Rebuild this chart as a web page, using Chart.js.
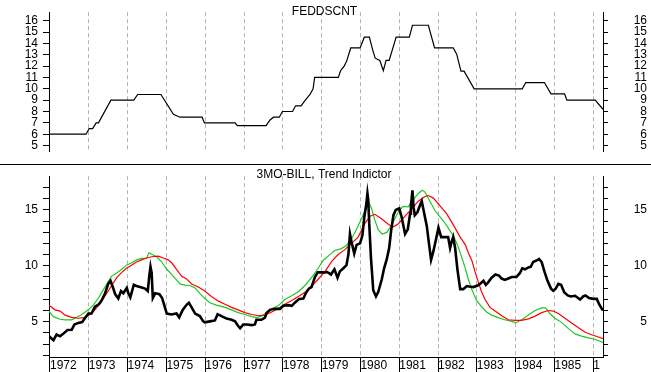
<!DOCTYPE html>
<html><head><meta charset="utf-8">
<script src="https://cdn.jsdelivr.net/npm/chart.js@4.4.1/dist/chart.umd.min.js"></script>
<style>
html,body{margin:0;padding:0;background:#fff;overflow:hidden;}
#wrap{position:relative;width:651px;height:372px;background:#fff;}
canvas{position:absolute;left:0;}
#c1{top:0;} #c2{top:164px;}
</style></head><body>
<div id="wrap"><canvas id="c1" width="651" height="164"></canvas><canvas id="c2" width="651" height="208"></canvas></div>
<script>
// ---- data ----
const topTitle = 'FEDDSCNT';
const bottomTitle = '3MO-BILL, Trend Indictor';
const yearTicks = [1972,1973,1974,1975,1976,1977,1978,1979,1980,1981,1982,1983,1984,1985,1986];
const yearLabels = ['1972','1973','1974','1975','1976','1977','1978','1979','1980','1981','1982','1983','1984','1985','1'];
const fedTicks = [5,6,7,8,9,10,11,12,13,14,15,16];
const billTicks = [2,3,4,5,6,7,8,9,10,11,12,13,14,15,16,17];
const billLabeled = [5,10,15];

const fedT = [1971.97,1972.93,1973.01,1973.10,1973.19,1973.25,1973.57,1974.16,1974.26,1974.86,1975.18,1975.35,1975.92,1975.98,1976.77,1976.83,1977.57,1977.67,1977.76,1977.91,1977.99,1978.25,1978.33,1978.47,1978.58,1978.70,1978.78,1978.82,1979.43,1979.49,1979.58,1979.64,1979.75,1979.99,1980.10,1980.23,1980.31,1980.38,1980.50,1980.59,1980.66,1980.74,1980.92,1981.26,1981.34,1981.75,1981.91,1982.39,1982.48,1982.59,1982.67,1982.93,1984.17,1984.26,1984.74,1984.91,1985.26,1985.32,1986.05,1986.25];
const fedV = [6.0,6.0,6.5,6.5,7.0,7.0,9.0,9.0,9.5,9.5,7.75,7.5,7.5,7.0,7.0,6.75,6.75,7.25,7.5,7.5,8.0,8.0,8.5,8.5,9.0,9.5,10.0,11.0,11.0,11.6,12.0,12.4,13.6,13.6,14.55,14.55,13.5,12.7,12.5,11.6,12.5,12.5,14.55,14.55,15.6,15.6,13.6,13.6,13.05,11.55,11.55,10.0,10.0,10.55,10.55,9.55,9.55,9.0,9.0,8.2];

const billT = [1971.97,1972.09,1972.17,1972.26,1972.34,1972.45,1972.56,1972.63,1972.73,1972.83,1972.90,1972.99,1973.07,1973.16,1973.26,1973.33,1973.42,1973.50,1973.56,1973.61,1973.68,1973.76,1973.83,1973.89,1973.98,1974.02,1974.07,1974.16,1974.23,1974.32,1974.45,1974.52,1974.56,1974.59,1974.62,1974.65,1974.71,1974.82,1974.89,1974.95,1975.01,1975.13,1975.26,1975.33,1975.42,1975.52,1975.58,1975.65,1975.74,1975.86,1975.95,1975.99,1976.12,1976.25,1976.32,1976.42,1976.55,1976.68,1976.77,1976.84,1976.90,1976.98,1977.07,1977.20,1977.28,1977.32,1977.45,1977.54,1977.58,1977.67,1977.80,1977.93,1978.01,1978.14,1978.23,1978.31,1978.42,1978.53,1978.59,1978.67,1978.74,1978.78,1978.83,1978.90,1979.00,1979.09,1979.13,1979.21,1979.24,1979.33,1979.41,1979.47,1979.56,1979.64,1979.69,1979.73,1979.77,1979.84,1979.90,1979.99,1980.05,1980.10,1980.15,1980.18,1980.20,1980.23,1980.27,1980.33,1980.40,1980.46,1980.55,1980.61,1980.68,1980.74,1980.79,1980.85,1980.91,1981.00,1981.06,1981.10,1981.15,1981.22,1981.28,1981.30,1981.34,1981.37,1981.40,1981.47,1981.53,1981.58,1981.62,1981.71,1981.77,1981.82,1981.88,1981.95,1982.01,1982.08,1982.18,1982.26,1982.31,1982.35,1982.39,1982.44,1982.50,1982.57,1982.65,1982.74,1982.80,1982.91,1983.02,1983.08,1983.17,1983.23,1983.29,1983.38,1983.48,1983.57,1983.64,1983.72,1983.81,1983.90,1984.02,1984.11,1984.17,1984.24,1984.33,1984.39,1984.45,1984.54,1984.60,1984.67,1984.74,1984.82,1984.91,1984.97,1985.03,1985.10,1985.17,1985.25,1985.34,1985.42,1985.53,1985.66,1985.74,1985.80,1985.89,1986.00,1986.09,1986.15,1986.22,1986.25];
const billV = [3.71,3.35,3.85,3.69,3.91,4.25,4.27,4.75,4.89,4.97,5.31,5.73,5.73,6.34,6.56,6.9,7.54,8.38,8.66,8.19,7.46,7.07,7.74,7.54,8.02,7.54,7.18,8.3,8.19,8.1,7.96,7.74,9.13,9.92,9.36,7.12,7.54,7.46,7.12,6.42,5.73,5.64,5.73,5.39,6.06,6.51,6.7,6.28,5.73,5.5,5.03,4.94,5.03,5.11,5.67,5.5,5.28,5.17,5.03,4.66,4.41,4.75,4.75,4.69,4.75,5.17,5.17,5.36,5.78,6.06,6.15,6.15,6.42,6.48,6.42,6.7,7.04,7.07,7.54,7.96,8.1,8.52,9.02,9.41,9.41,9.41,9.45,9.3,9.22,9.69,8.94,9.5,9.78,10.06,11.03,12.85,12.15,11.09,11.87,12.01,12.71,14.39,15.5,16.48,15.92,13.55,10.76,7.82,7.26,7.68,8.8,9.78,10.62,11.59,13.13,14.53,15.0,15.14,14.39,13.69,12.85,13.27,14.67,15.37,16.76,15.23,14.53,14.81,15.37,15.78,15.09,13.55,11.87,10.53,11.31,12.43,13.41,12.57,12.57,12.57,11.59,12.15,12.57,11.59,9.64,7.91,7.91,8.19,8.15,8.1,8.24,8.38,8.66,8.3,8.52,8.94,9.22,9.13,8.86,8.74,8.86,9.0,9.0,9.36,9.78,9.69,9.86,9.92,10.34,10.48,10.62,10.34,9.5,8.66,7.96,7.77,7.96,8.38,8.3,7.63,7.35,7.26,7.32,6.98,7.26,7.35,7.12,7.04,7.04,6.56,6.15,6.0];

const redT = [1971.96,1972.13,1972.26,1972.39,1972.56,1972.73,1972.90,1973.07,1973.20,1973.33,1973.46,1973.59,1973.72,1973.85,1973.97,1974.10,1974.23,1974.36,1974.49,1974.62,1974.79,1974.92,1975.05,1975.14,1975.26,1975.39,1975.52,1975.65,1975.82,1975.99,1976.16,1976.34,1976.51,1976.68,1976.85,1977.02,1977.20,1977.37,1977.54,1977.71,1977.88,1978.05,1978.23,1978.40,1978.57,1978.74,1978.91,1979.09,1979.26,1979.43,1979.60,1979.77,1979.94,1980.12,1980.25,1980.37,1980.50,1980.63,1980.76,1980.85,1980.98,1981.15,1981.32,1981.49,1981.66,1981.75,1981.88,1982.05,1982.22,1982.39,1982.57,1982.70,1982.78,1982.87,1982.95,1983.04,1983.12,1983.21,1983.34,1983.47,1983.64,1983.81,1983.98,1984.15,1984.33,1984.50,1984.67,1984.84,1984.97,1985.10,1985.27,1985.44,1985.61,1985.79,1985.96,1986.13,1986.25];
const redV = [6.51,6.06,5.95,5.59,5.39,5.31,5.39,5.73,6.23,6.84,7.54,8.24,8.94,9.41,9.78,10.06,10.34,10.53,10.7,10.81,10.87,10.7,10.53,10.25,9.69,9.08,8.83,8.38,8.1,7.74,7.26,6.84,6.56,6.28,6.06,5.81,5.64,5.53,5.59,5.87,6.15,6.56,6.9,7.26,7.63,8.19,8.8,9.5,10.4,11.03,11.45,12.01,12.57,13.83,14.44,14.61,14.33,13.97,13.61,13.49,13.77,14.44,15.09,15.78,16.2,16.29,16.06,15.37,14.67,13.69,12.57,11.9,11.17,10.48,9.5,8.52,7.68,6.98,6.28,5.95,5.53,5.17,5.11,5.11,5.25,5.5,5.81,6.0,5.95,5.73,5.31,4.89,4.47,4.05,3.83,3.63,3.49];

const greenT = [1971.96,1972.09,1972.26,1972.39,1972.56,1972.69,1972.82,1972.99,1973.12,1973.25,1973.37,1973.50,1973.59,1973.72,1973.85,1973.97,1974.10,1974.23,1974.36,1974.49,1974.55,1974.62,1974.75,1974.88,1975.01,1975.14,1975.26,1975.35,1975.48,1975.61,1975.74,1975.86,1975.99,1976.12,1976.29,1976.51,1976.68,1976.85,1977.02,1977.20,1977.32,1977.45,1977.58,1977.71,1977.88,1978.05,1978.23,1978.40,1978.57,1978.74,1978.91,1979.04,1979.21,1979.34,1979.51,1979.64,1979.77,1979.90,1980.03,1980.16,1980.22,1980.29,1980.37,1980.46,1980.56,1980.68,1980.79,1980.91,1981.00,1981.10,1981.23,1981.36,1981.49,1981.59,1981.66,1981.79,1981.92,1982.05,1982.18,1982.31,1982.39,1982.50,1982.61,1982.69,1982.78,1982.86,1982.99,1983.12,1983.25,1983.38,1983.55,1983.72,1983.90,1984.00,1984.15,1984.33,1984.50,1984.67,1984.77,1984.88,1985.01,1985.18,1985.36,1985.53,1985.70,1985.87,1986.04,1986.25];
const greenV = [6.0,5.45,5.22,5.17,5.17,5.39,5.64,6.06,6.51,7.12,7.82,8.58,9.08,9.36,9.69,10.06,10.25,10.53,10.67,10.7,11.17,11.03,10.81,10.34,9.69,9.22,8.74,8.38,8.27,8.24,8.02,7.54,7.07,6.7,6.48,6.28,6.06,5.81,5.64,5.45,5.36,5.5,5.81,6.15,6.42,6.98,7.32,7.68,8.24,8.94,9.78,10.48,11.0,11.37,11.54,11.82,12.43,13.27,14.25,15.28,15.65,15.09,14.11,13.21,12.85,12.99,13.55,14.39,14.95,15.31,15.28,15.92,16.48,16.76,16.62,15.78,14.95,14.39,13.83,13.13,12.71,11.87,10.76,9.9,8.8,7.96,6.9,6.34,5.87,5.59,5.36,5.17,5.03,4.89,5.17,5.59,6.0,6.23,6.23,5.73,5.31,4.94,4.38,3.91,3.71,3.55,3.43,3.15];

// ---- chart setup ----
const FONT = "'Liberation Sans', Arial, sans-serif";
Chart.defaults.font.family = FONT;
Chart.defaults.font.size = 12;
Chart.defaults.color = '#000';

const pts = (t, v) => t.map((x, i) => ({x: x, y: v[i]}));
const X_MIN = 1971.975, X_MAX = 1986.25;

const panelText = {
  id: 'panelText',
  afterDatasetsDraw(chart, args, opts) {
    const ctx = chart.ctx;
    ctx.save();
    if (opts.line) {
      ctx.strokeStyle = '#000'; ctx.lineWidth = 1;
      ctx.beginPath(); ctx.moveTo(0, 0.5); ctx.lineTo(chart.width, 0.5); ctx.stroke();
    }
    ctx.font = '12px ' + FONT;
    ctx.fillStyle = '#000';
    ctx.textAlign = 'center';
    ctx.textBaseline = 'alphabetic';
    ctx.fillText(opts.text, opts.x, opts.y);
    ctx.restore();
  }
};

function yAxis(pos, min, max, ticks, labelFn, width) {
  return {
    type: 'linear', position: pos, min: min, max: max,
    afterBuildTicks: s => { s.ticks = ticks.map(v => ({value: v})); },
    afterFit: s => { s.width = width; },
    grid: { drawOnChartArea: false, drawTicks: true, tickLength: pos === 'left' ? 6 : 5, tickColor: '#000', tickWidth: 1 },
    border: { display: true, color: '#000', width: 1 },
    ticks: { padding: 5, crossAlign: pos === 'left' ? 'near' : 'far', color: '#000', font: {size: 12}, callback: labelFn, autoSkip: false }
  };
}

function xAxis(showLabels) {
  return {
    type: 'linear', position: 'bottom', min: X_MIN, max: X_MAX,
    afterBuildTicks: s => { s.ticks = yearTicks.map(v => ({value: v})); },
    afterFit: s => { s.height = showLabels ? 15 : 0; },
    grid: {
      display: true, drawOnChartArea: true, drawTicks: showLabels, tickLength: 15,
      color: '#b4b4b4', tickColor: '#000', tickBorderDash: [], tickWidth: 1
    },
    border: { display: showLabels, color: '#000', width: 1, dash: [4, 3] },
    ticks: {
      display: showLabels, align: 'start', padding: -14, autoSkip: false, maxRotation: 0, minRotation: 0,
      color: '#000', font: {size: 12},
      callback: (v) => { const i = yearTicks.indexOf(v); return i >= 0 ? yearLabels[i] : ''; }
    }
  };
}

const common = {
  responsive: false, animation: false, events: [],
  layout: { padding: { left: 0, right: 4, top: 0, bottom: 0 } },
  plugins: { legend: {display: false}, tooltip: {enabled: false} },
  elements: { point: { radius: 0 }, line: { tension: 0 } }
};

const FED_MIN = 4.45, FED_MAX = 16.75;
new Chart(document.getElementById('c1'), {
  type: 'line',
  data: { datasets: [
    { data: pts(fedT, fedV), borderColor: '#000', borderWidth: 1.2, fill: false, yAxisID: 'yL' }
  ]},
  options: Object.assign({}, common, {
    plugins: Object.assign({}, common.plugins, { panelText: { text: topTitle, x: 324.5, y: 15, line: false } }),
    scales: {
      x: xAxis(false),
      yL: yAxis('left', FED_MIN, FED_MAX, fedTicks, v => String(v), 49),
      yR: yAxis('right', FED_MIN, FED_MAX, fedTicks, v => String(v), 44)
    }
  }),
  plugins: [panelText]
});

const BILL_MIN = 1.84, BILL_MAX = 18.02;
const billLabel = v => billLabeled.indexOf(v) >= 0 ? String(v) : '';
new Chart(document.getElementById('c2'), {
  type: 'line',
  data: { datasets: [
    { data: pts(billT, billV), borderColor: '#000', borderWidth: 2.6, fill: false, yAxisID: 'yL' },
    { data: pts(redT, redV), borderColor: '#ff0000', borderWidth: 1.2, fill: false, yAxisID: 'yL' },
    { data: pts(greenT, greenV), borderColor: '#1ec81e', borderWidth: 1.2, fill: false, yAxisID: 'yL' }
  ]},
  options: Object.assign({}, common, {
    plugins: Object.assign({}, common.plugins, { panelText: { text: bottomTitle, x: 324, y: 13.5, line: true } }),
    scales: {
      x: xAxis(true),
      yL: yAxis('left', BILL_MIN, BILL_MAX, billTicks, billLabel, 49),
      yR: yAxis('right', BILL_MIN, BILL_MAX, billTicks, billLabel, 44)
    }
  }),
  plugins: [panelText]
});
</script>
</body></html>
